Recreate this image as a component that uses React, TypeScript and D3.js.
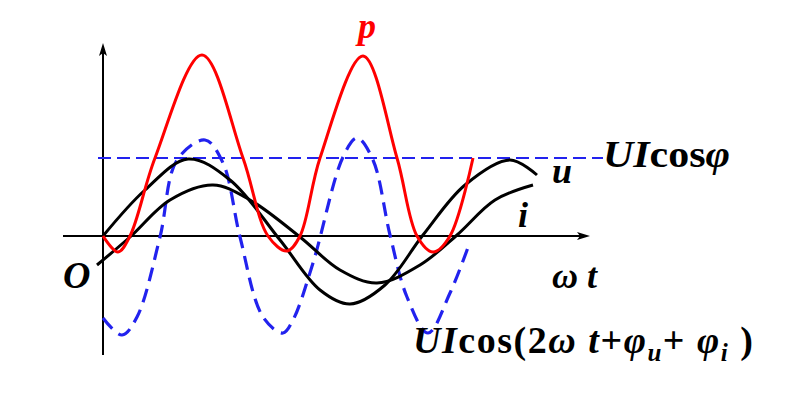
import React from 'react';
import * as d3 from 'd3';

// points, x in plot units (50px), y in plot units (40px)
const U_PTS: [number, number][] = [
  [0, 0], [0.84, 1.15], [1.7, 1.925], [2.54, 1.4], [3.54, -0.1], [4.34, -1.35],
  [4.94, -1.7], [5.64, -1.225], [6.4, 0.025], [7.24, 1.275], [8.14, 1.9], [8.68, 1.525],
];
const I_PTS: [number, number][] = [
  [-0.12, -0.725], [0.54, -0.025], [1.34, 0.9], [2.2, 1.275], [2.94, 0.9], [3.94, -0.025],
  [4.74, -0.85], [5.48, -1.175], [6.34, -0.725], [7.08, 0.025], [7.84, 0.9], [8.6, 1.275],
];
const P_PTS: [number, number][] = [
  [0, 0], [0.3, -0.4], [0.54, 0], [1.04, 1.95], [1.98, 4.525], [2.8, 1.95], [3.3, 0],
  [3.68, -0.375], [3.94, 0], [4.34, 1.95], [5.2, 4.5], [5.88, 1.95], [6.28, 0],
  [6.6, -0.4], [6.94, 0], [7.4, 1.95],
];
const OSC_PTS: [number, number][] = [
  [0, -2.05], [0.38, -2.475], [0.68, -2.025], [1.14, -0.025], [1.48, 1.9], [2.04, 2.4],
  [2.4, 1.825], [2.74, -0.025], [3.2, -2.025], [3.6, -2.425], [3.8, -2.1], [4.2, -0.675],
  [4.8, 1.975], [5.08, 2.45], [5.4, 1.9], [5.74, 0.025], [6.08, -1.525], [6.5, -2.425],
  [6.94, -1.425], [7.34, -0.15],
];
const AVG_LEVEL = 1.95;
const AVG_RANGE: [number, number] = [-0.1, 10];
const X_AXIS: [number, number] = [-0.8, 9.74];
const Y_AXIS: [number, number] = [-2.975, 4.825];

const W = 800;
const H = 403;

const x = d3.scaleLinear().domain([0, 10]).range([103, 603]);
const y = d3.scaleLinear().domain([-3, 5]).range([356, 36]);

const curve = d3
  .line<[number, number]>()
  .x((d) => x(d[0]))
  .y((d) => y(d[1]))
  .curve(d3.curveCatmullRom.alpha(0.5));

const SERIF = 'Liberation Serif';

const Label: React.FC<{
  x: number;
  y: number;
  fill?: string;
  italic?: boolean;
  size?: number;
  len?: number;
  adjust?: string;
  children: React.ReactNode;
}> = ({ x: lx, y: ly, fill = '#000', italic = false, size = 36, len, adjust = 'spacing', children }) => (
  <text
    x={lx}
    y={ly}
    fill={fill}
    fontSize={size}
    fontWeight="bold"
    fontFamily={SERIF}
    fontStyle={italic ? 'italic' : 'normal'}
    style={{ fontFamily: SERIF }}
    textLength={len}
    lengthAdjust={len ? adjust : undefined}
  >
    {children}
  </text>
);

export default function App() {
  const x0 = x(0);
  const y0 = y(0);
  const axEnd = x(X_AXIS[1]);
  const ayTop = y(Y_AXIS[1]);
  return (
    <svg width={W} height={H} style={{ position: 'absolute', left: 0, top: 0 }}>
      {/* axes */}
      <line x1={x(X_AXIS[0])} y1={y0} x2={axEnd - 8} y2={y0} stroke="#000" strokeWidth={2} />
      <path d={`M${axEnd},${y0} L${axEnd - 13},${y0 - 4} L${axEnd - 10},${y0} L${axEnd - 13},${y0 + 4} Z`} fill="#000" />
      <line x1={x0} y1={y(Y_AXIS[0])} x2={x0} y2={ayTop + 8} stroke="#000" strokeWidth={2} />
      <path d={`M${x0},${ayTop} L${x0 - 4},${ayTop + 13} L${x0},${ayTop + 10} L${x0 + 4},${ayTop + 13} Z`} fill="#000" />

      {/* average power level */}
      <line
        x1={x(AVG_RANGE[0])}
        x2={x(AVG_RANGE[1])}
        y1={y(AVG_LEVEL)}
        y2={y(AVG_LEVEL)}
        stroke="#2222ee"
        strokeWidth={2}
        strokeDasharray="13 6"
      />

      <path d={curve(OSC_PTS) ?? ''} fill="none" stroke="#2222ee" strokeWidth={3.2} strokeDasharray="14 8" />
      <path d={curve(I_PTS) ?? ''} fill="none" stroke="#000" strokeWidth={3} />
      <path d={curve(U_PTS) ?? ''} fill="none" stroke="#000" strokeWidth={3} />
      <path d={curve(P_PTS) ?? ''} fill="none" stroke="#ff0000" strokeWidth={3} />

      {/* labels */}
      <Label x={358} y={38} fill="#ff0000" italic>p</Label>
      <Label x={603} y={167} size={37} len={127} adjust="spacingAndGlyphs">
        <tspan fontStyle="italic">UI</tspan>cos<tspan fontStyle="italic">φ</tspan>
      </Label>
      <Label x={552} y={183} italic>u</Label>
      <Label x={518} y={227} italic>i</Label>
      <Label x={552} y={288} italic>ω t</Label>
      <Label x={63} y={288} italic size={38}>O</Label>
      <Label x={413} y={353} size={38} len={340}>
        <tspan fontStyle="italic">UI</tspan>cos(2<tspan fontStyle="italic">ω t</tspan>+<tspan fontStyle="italic">φ</tspan>
        <tspan fontStyle="italic" fontSize={25} dy={8}>u</tspan>
        <tspan dy={-8}>+ </tspan>
        <tspan fontStyle="italic">φ</tspan>
        <tspan fontStyle="italic" fontSize={25} dy={8}>i</tspan>
        <tspan dy={-8}> )</tspan>
      </Label>
    </svg>
  );
}
